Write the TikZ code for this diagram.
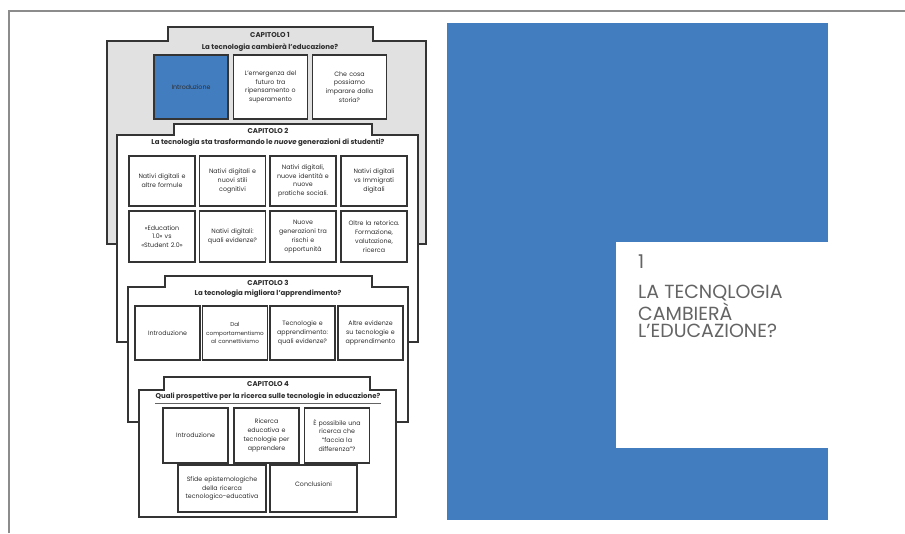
\documentclass[tikz,border=0pt]{standalone}
\usepackage{fontspec}
\setmainfont{Poppins}
\usetikzlibrary{shadows}
\definecolor{panelblue}{RGB}{66,125,192}
\definecolor{chapgray}{RGB}{225,225,225}
\definecolor{edgegray}{RGB}{52,52,52}
\definecolor{textgray}{RGB}{45,45,45}
\definecolor{titlegray}{RGB}{100,100,100}
\definecolor{framegray}{RGB}{140,140,140}
\tikzset{
  cell/.style={draw=edgegray, line width=1.5pt, align=center,
    inner sep=0.5pt, text=textgray, font=\fontsize{6.3}{8.8}\selectfont,
    drop shadow={shadow xshift=0.8pt, shadow yshift=-0.9pt, opacity=0.35}},
  chaphead/.style={text=textgray, font=\fontsize{7}{8}\selectfont\bfseries},
  chapsub/.style={text=textgray, font=\fontsize{7}{8}\selectfont\bfseries},
  chapline/.style={draw=edgegray, line width=1.3pt},
}
% #1 fill, #2 tab left, #3 tab right, #4 tab top, #5 step, #6 body left, #7 body right, #8 bottom
\newcommand\chapshape[8]{\draw[chapline, fill=#1] (#6,#8) -- (#6,#5) -- (#2,#5) -- (#2,#4)
  -- (#3,#4) -- (#3,#5) -- (#7,#5) -- (#7,#8) -- cycle;}
% [#1] fill, #2 name, #3 centre, #4 width, #5 height, #6 text
\newcommand\cellbox[6][white]{\pgfmathsetmacro\cellw{#4-1}
  \node[cell, fill=#1, minimum width=#4, minimum height=#5, text width=\cellw pt] (#2) at #3 {#6};}

\begin{document}
\begin{tikzpicture}[x=1pt, y=-1pt]
      \useasboundingbox (0,0) rectangle (905,533);

      % Page frame
      \coordinate (frameL) at (9,533);
      \coordinate (frameC) at (9,11);
      \coordinate (frameR) at (905,11);
      \draw[framegray, line width=1.5pt] (frameL) -- (frameC) -- (frameR);

      % Capitolo 1
      \chapshape{chapgray}{168}{373}{27}{41}{107}{426}{244}
      \node[chaphead] (cap1) at (270,35) {CAPITOLO 1};
      \node[chapsub] (sub1) at (270,48) {La tecnologia cambierà l’educazione?};
      \cellbox[panelblue]{c1a}{(191,87)}{74}{64}{Introduzione}
      \cellbox{c1b}{(270.5,87)}{74}{64}{L’emergenza del\\futuro tra\\ripensamento o\\superamento}
      \cellbox{c1c}{(349.5,87)}{74}{64}{Che cosa\\possiamo\\imparare dalla\\storia?}

      % Capitolo 2
      \chapshape{white}{174}{372}{124}{135}{117}{418}{342}
      \node[chaphead] (cap2) at (268,131) {CAPITOLO 2};
      \node[chapsub] (sub2) at (268,143) {La tecnologia sta trasformando le \textit{nuove} generazioni di studenti?};
      \cellbox{c2a}{(162,181)}{66}{50}{Nativi digitali e\\altre formule}
      \cellbox{c2b}{(232.5,181)}{66}{50}{Nativi digitali e\\nuovi stili\\cognitivi}
      \cellbox{c2c}{(303,181)}{66}{50}{Nativi digitali,\\nuove identità e\\nuove\\pratiche sociali.}
      \cellbox{c2d}{(374,181)}{66}{50}{Nativi digitali\\vs Immigrati\\digitali}
      \cellbox{c2e}{(162,236.5)}{66}{51}{«Education\\1.0» vs\\«Student 2.0»}
      \cellbox{c2f}{(232.5,236.5)}{66}{51}{Nativi digitali:\\quali evidenze?}
      \cellbox{c2g}{(303,236.5)}{66}{51}{Nuove\\generazioni tra\\rischi e\\opportunità}
      \cellbox{c2h}{(374,236.5)}{66}{51}{Oltre la retorica.\\Formazione,\\valutazione,\\ricerca}

      % Capitolo 3
      \chapshape{white}{165}{372}{276}{287}{128}{408}{422}
      \node[chaphead] (cap3) at (268,283) {CAPITOLO 3};
      \node[chapsub] (sub3) at (268,294) {La tecnologia migliora l’apprendimento?};
      \cellbox{c3a}{(167.5,333)}{65}{54}{Introduzione}
      \cellbox{c3b}{(235,333)}{65}{54}{\fontsize{5.7}{8.8}\selectfont Dal\\comportamentismo\\al connettivismo}
      \cellbox{c3c}{(302.5,333)}{65}{54}{Tecnologie e\\apprendimento:\\quali evidenze?}
      \cellbox{c3d}{(370.5,333)}{65}{54}{Altre evidenze\\su tecnologie e\\apprendimento}

      % Capitolo 4
      \chapshape{white}{164}{370}{377}{390}{139}{396}{517}
      \node[chaphead] (cap4) at (268,384) {CAPITOLO 4};
      \node[chapsub] (sub4) at (268,397) {Quali prospettive per la ricerca sulle tecnologie in educazione?};
      \draw[titlegray, line width=0.5pt] ([xshift=3pt, yshift=1pt]sub4.south west) -- ([xshift=-3pt, yshift=1pt]sub4.south east);
      \cellbox{c4a}{(195.5,435.5)}{65}{55}{Introduzione}
      \cellbox{c4b}{(266.5,435.5)}{65}{55}{Ricerca\\educativa e\\tecnologie per\\apprendere}
      \cellbox{c4c}{(337,435.5)}{65}{55}{È possibile una\\ricerca che\\“faccia la\\differenza”?}
      \cellbox{c4d}{(222,488.5)}{88}{47}{Sfide epistemologiche\\della ricerca\\tecnologico-educativa}
      \cellbox{c4e}{(313.5,488.5)}{87}{47}{Conclusioni\\[1pt]~}

      % Pagina di apertura
      \fill[panelblue] (447,23) rectangle (828,520);
      \fill[white] (616,242) rectangle (828,448);
      \node[anchor=north west, align=left, inner sep=0pt, text=titlegray,
        font=\fontsize{19}{17.5}\selectfont] (titolo) at (638,254.5)
        {1\\[13pt]LA TECNQLOGIA\\CAMBIERÀ\\L’EDUCAZIONE?};
    \end{tikzpicture}
\end{document}
